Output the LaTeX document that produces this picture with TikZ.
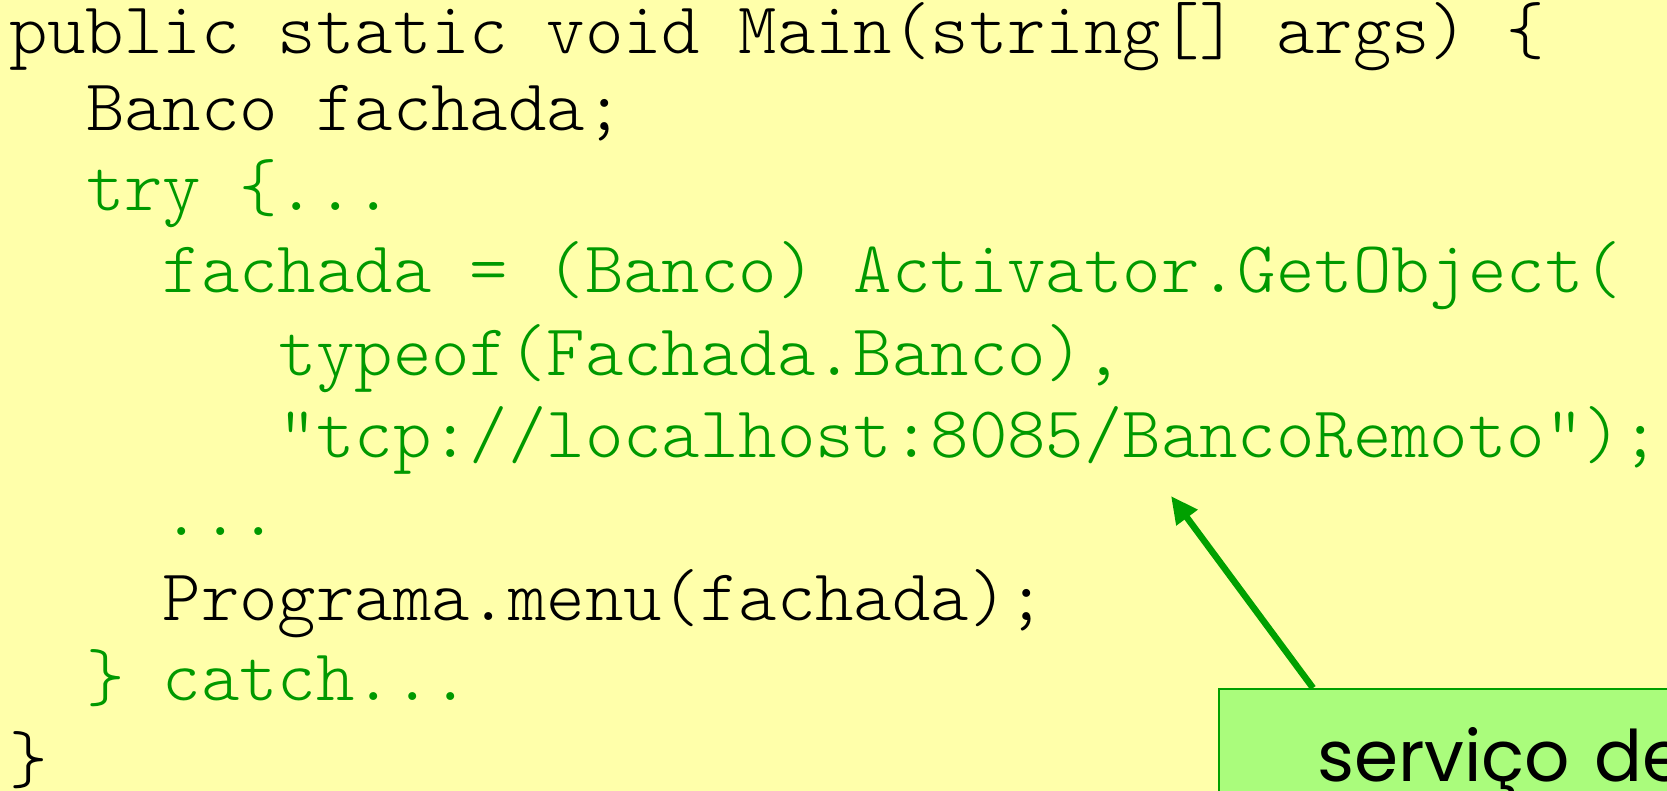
\documentclass[tikz,border=0pt]{standalone}
\usepackage{fontspec}
\setmonofont{Latin Modern Mono Light}
\newfontfamily\notafont{Poppins}
\usetikzlibrary{arrows.meta}

\definecolor{fundo}{RGB}{255,255,170}
\definecolor{verde}{RGB}{0,153,0}
\definecolor{caixa}{RGB}{170,252,124}
\definecolor{borda}{RGB}{0,160,0}

\begin{document}
\begin{tikzpicture}[x=1pt,y=-1pt,
codigo/.style={anchor=base west,inner sep=0pt,font=\ttfamily\fontsize{73.14}{73}\selectfont},
preto/.style={codigo,text=black},
verdelinha/.style={codigo,text=verde},
nota/.style={draw=borda,line width=2pt,fill=caixa,anchor=north west,inner xsep=98pt,inner ysep=0pt,
  text width=420pt,align=left,text height=92pt,text depth=60pt,font=\notafont\fontsize{71}{71}\selectfont},
seta/.style={draw=borda,line width=6.5pt,-{Triangle[length=27pt,width=25pt]}}]
\useasboundingbox (0,0) rectangle (1667,791);
\clip (0,0) rectangle (1667,791);
\fill[fundo] (0,0) rectangle (1667,791);

% codigo
\node (l1) [preto] at (9,54) {public static void Main(string[] args) \{};
\node (l2) [preto] at (85.8,131) {Banco fachada;};
\node (l3) [verdelinha] at (85.8,211) {try \{...};
\node (l4) [verdelinha] at (162.6,293) {fachada = (Banco) Activator.GetObject(};
\node (l5) [verdelinha] at (277.8,375) {typeof(Fachada.Banco),};
\node (l6) [verdelinha] at (277.8,457) {"tcp://localhost:8085/BancoRemoto");};
\node (l7) [verdelinha] at (162.6,535) {...};
\node (l8) [preto] at (162.6,620) {Programa.menu(fachada);};
\node (l9) [verdelinha] at (85.8,700) {\} catch...};
\node (l10) [preto] at (9,782) {\}};

% caixa de nota
\node (nota) [nota] at (1218,688) {serviço de};
\coordinate (alvo) at (1171,496);
\draw[seta] ([xshift=95pt]nota.north west) -- (alvo);
\end{tikzpicture}
\end{document}
